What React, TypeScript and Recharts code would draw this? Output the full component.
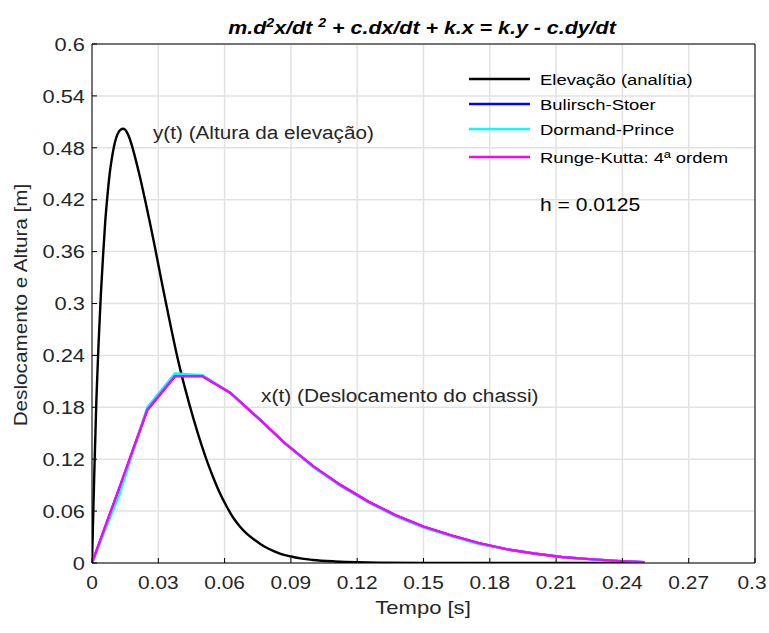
import React from 'react';
import { LineChart, Line, XAxis, YAxis, CartesianGrid } from 'recharts';

// eixos
const xTicks = [0, 0.03, 0.06, 0.09, 0.12, 0.15, 0.18, 0.21, 0.24, 0.27, 0.3];
const xTickLabels = ['0', '0.03', '0.06', '0.09', '0.12', '0.15', '0.18', '0.21', '0.24', '0.27', '0.3'];
const yTicks = [0, 0.06, 0.12, 0.18, 0.24, 0.3, 0.36, 0.42, 0.48, 0.54, 0.6];
const yTickLabels = ['0', '0.06', '0.12', '0.18', '0.24', '0.3', '0.36', '0.42', '0.48', '0.54', '0.6'];

// elevação analítica y(t)
const elevT = [
  0, 0.001, 0.002, 0.003, 0.004, 0.005, 0.006, 0.007, 0.008, 0.009, 0.01, 0.011, 0.012, 0.013,
  0.014, 0.015, 0.016, 0.017, 0.018, 0.02, 0.022, 0.024, 0.026, 0.028, 0.03, 0.032, 0.034, 0.036,
  0.038, 0.04, 0.042, 0.044, 0.046, 0.048, 0.05, 0.052, 0.055, 0.058, 0.061, 0.064, 0.067, 0.07,
  0.074, 0.078, 0.082, 0.086, 0.09, 0.095, 0.1, 0.11, 0.12, 0.13, 0.15, 0.2, 0.25,
];
const elevY = [
  0, 0.1, 0.19, 0.255, 0.31, 0.355, 0.395, 0.425, 0.45, 0.468, 0.482, 0.492, 0.498, 0.501,
  0.502, 0.501, 0.497, 0.491, 0.483, 0.464, 0.443, 0.42, 0.396, 0.371, 0.345, 0.319, 0.294, 0.269,
  0.245, 0.223, 0.203, 0.184, 0.166, 0.149, 0.133, 0.118, 0.098, 0.08, 0.065, 0.052, 0.042, 0.034,
  0.026, 0.019, 0.014, 0.01, 0.0075, 0.005, 0.0035, 0.0018, 0.0008, 0.0003, 0, 0, 0,
];

// deslocamento do chassi x(t), passo h = 0.0125
const stepT = [
  0, 0.0125, 0.025, 0.0375, 0.05, 0.0625, 0.075, 0.0875, 0.1, 0.1125, 0.125, 0.1375, 0.15,
  0.1625, 0.175, 0.1875, 0.2, 0.2125, 0.225, 0.2375, 0.25,
];
const bulirschX = [
  0, 0.087, 0.177, 0.216, 0.216, 0.197, 0.168, 0.138, 0.112, 0.09, 0.071, 0.055, 0.042,
  0.032, 0.023, 0.016, 0.011, 0.007, 0.0045, 0.0025, 0.001,
];
const dormandX = [
  0, 0.08, 0.18, 0.219, 0.217, 0.197, 0.168, 0.138, 0.111, 0.089, 0.07, 0.054, 0.041,
  0.031, 0.022, 0.016, 0.011, 0.007, 0.0045, 0.0025, 0.001,
];
const rungeX = [
  0, 0.088, 0.177, 0.216, 0.216, 0.197, 0.168, 0.138, 0.112, 0.09, 0.071, 0.055, 0.042,
  0.032, 0.023, 0.016, 0.011, 0.007, 0.0045, 0.0025, 0.001,
];

const legendNames = ['Elevação (analítia)', 'Bulirsch-Stoer', 'Dormand-Prince', 'Runge-Kutta: 4ª ordem'];
const legendColors = ['#000000', '#0000ff', '#00ffff', '#ff00ff'];

const rows = (ts: number[], vs: number[]) => ts.map((t, i) => ({ t, v: vs[i] }));

const FONT = '"Liberation Sans", Arial, sans-serif';
const INK = '#262626';

// texto esticado na horizontal, como na figura original
function WideText({ x, y, sx = 1.18, anchor = 'start', size = 19, children, ...rest }: any) {
  return (
    <g transform={`translate(${x},${y}) scale(${sx},1)`}>
      <text x={0} y={0} textAnchor={anchor} fontSize={size} fontFamily={FONT} fill={INK} {...rest}>
        {children}
      </text>
    </g>
  );
}

const XTick = ({ x, y, payload, index }: any) => (
  <WideText x={index === xTicks.length - 1 ? x - 3 : x} y={y} anchor="middle" sx={1.1} dy="0.71em">
    {xTickLabels[xTicks.indexOf(payload.value)] ?? payload.value}
  </WideText>
);

const YTick = ({ x, y, payload }: any) => (
  <WideText x={x} y={y} anchor="end" sx={1.15} dy="0.355em">
    {yTickLabels[yTicks.indexOf(payload.value)] ?? payload.value}
  </WideText>
);

export default function App() {
  const lineYs = [79, 104, 129, 157];

  return (
    <div style={{ position: 'absolute', left: 0, top: 0, width: 769, height: 633, background: '#fff' }}>
      <LineChart width={769} height={633} margin={{ top: 0, right: 0, bottom: 0, left: 0 }}>
        <CartesianGrid stroke="#e2e2e2" strokeWidth={1.5} />
        <XAxis
          dataKey="t"
          type="number"
          domain={[0, 0.3]}
          ticks={xTicks}
          height={70}
          tickSize={-5}
          tickMargin={18}
          tick={<XTick />}
          stroke="#000"
          allowDataOverflow
        />
        <XAxis
          xAxisId="top"
          orientation="top"
          type="number"
          domain={[0, 0.3]}
          ticks={xTicks}
          tickFormatter={() => ''}
          height={44}
          tickSize={-5}
          stroke="#000"
        />
        <YAxis
          type="number"
          domain={[0, 0.6]}
          ticks={yTicks}
          width={92}
          tickSize={-5}
          tickMargin={12}
          tick={<YTick />}
          stroke="#000"
          allowDataOverflow
        />
        <YAxis
          yAxisId="right"
          orientation="right"
          type="number"
          domain={[0, 0.6]}
          ticks={yTicks}
          tickFormatter={() => ''}
          width={14}
          tickSize={-5}
          stroke="#000"
        />
        <Line data={rows(elevT, elevY)} dataKey="v" type="monotone" stroke="#000" strokeWidth={2.4} dot={false} isAnimationActive={false} />
        <Line data={rows(stepT, bulirschX)} dataKey="v" type="linear" stroke="#0000ff" strokeWidth={2.4} dot={false} isAnimationActive={false} />
        <Line data={rows(stepT, dormandX)} dataKey="v" type="linear" stroke="#00ffff" strokeWidth={2.4} dot={false} isAnimationActive={false} />
        <Line data={rows(stepT, rungeX)} dataKey="v" type="linear" stroke="#ff00ff" strokeWidth={2.4} dot={false} isAnimationActive={false} />
      </LineChart>

      <svg width={769} height={633} style={{ position: 'absolute', left: 0, top: 0, pointerEvents: 'none' }}>
        <WideText x={422} y={34} anchor="middle" size={18} sx={1.19} fontWeight="bold" fontStyle="italic" fill="#000">
          m.d<tspan dy={-7} fontSize={12}>2</tspan>
          <tspan dy={7}>x/dt </tspan>
          <tspan dy={-7} fontSize={12}>2</tspan>
          <tspan dy={7}> + c.dx/dt + k.x = k.y - c.dy/dt</tspan>
        </WideText>
        <g transform="translate(22,305) rotate(-90)">
          <WideText x={0} y={0} anchor="middle" size={19} sx={1.09} dominantBaseline="middle">
            Deslocamento e Altura [m]
          </WideText>
        </g>
        <WideText x={423} y={614} anchor="middle" sx={1.16}>
          Tempo [s]
        </WideText>
        <WideText x={153} y={139} sx={1.09}>y(t) (Altura da elevação)</WideText>
        <WideText x={261} y={402} sx={1.1}>x(t) (Deslocamento do chassi)</WideText>
        {legendNames.map((name, i) => (
          <g key={name}>
            <line x1={469} x2={530} y1={lineYs[i]} y2={lineYs[i]} stroke={legendColors[i]} strokeWidth={2.4} />
            <WideText x={540} y={lineYs[i] + 5.5} size={15.5} sx={1.19} fill="#000">{name}</WideText>
          </g>
        ))}
        <WideText x={540} y={211} sx={1.11} fill="#000">h = 0.0125</WideText>
      </svg>
    </div>
  );
}
